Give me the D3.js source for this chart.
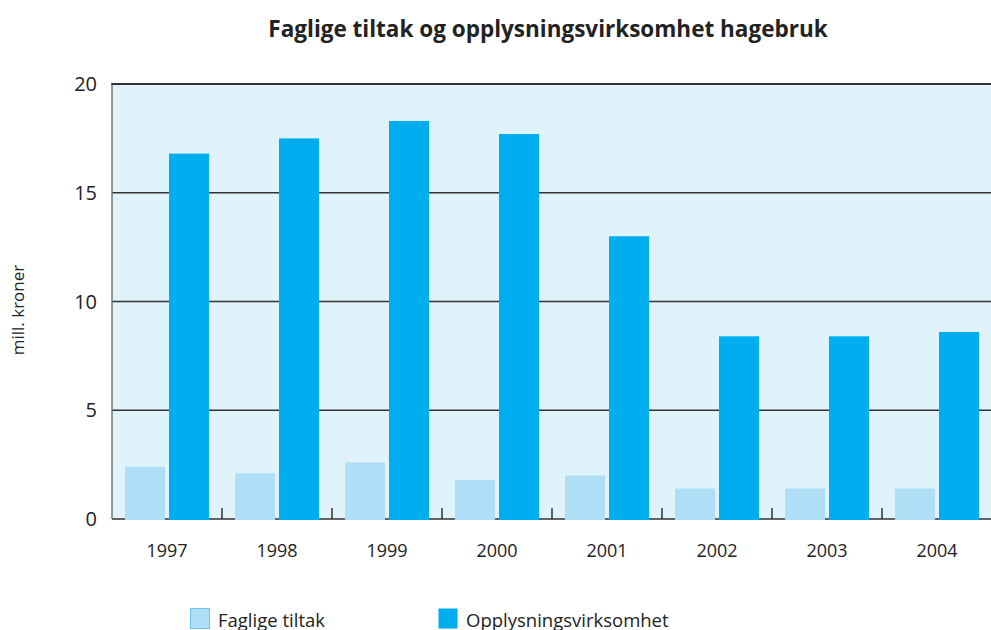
<!DOCTYPE html>
<html>
<head>
<meta charset="utf-8">
<script src="https://cdn.jsdelivr.net/npm/d3@7"></script>
<style>
  body { margin: 0; background: #fff; }
  svg { display: block; font-family: "Open Sans", "DejaVu Sans", sans-serif; }
</style>
</head>
<body>
<svg id="chart" width="991" height="630"></svg>
<script>
// data
var years = ["1997", "1998", "1999", "2000", "2001", "2002", "2003", "2004"];
var faglige = [2.4, 2.1, 2.6, 1.8, 2.0, 1.4, 1.4, 1.4];
var opplysning = [16.8, 17.5, 18.3, 17.7, 13.0, 8.4, 8.4, 8.6];
var yTicks = [0, 5, 10, 15, 20];
var seriesNames = ["Faglige tiltak", "Opplysningsvirksomhet"];
var colors = ["#aedff7", "#00aeef"];

var svg = d3.select("#chart");
// note: "top" is taken by window.top, so plot edges get their own names
var plotLeft = 112, plotRight = 992, plotTop = 84, plotBottom = 519;

var x = d3.scaleBand().domain(years).range([plotLeft, plotRight]);
var y = d3.scaleLinear().domain([0, 20]).range([plotBottom, plotTop]);
var bw = x.bandwidth();

// plot background
svg.append("rect")
  .attr("x", plotLeft).attr("y", plotTop)
  .attr("width", plotRight - plotLeft).attr("height", plotBottom - plotTop)
  .attr("fill", "#e0f3fb");

// gridlines
svg.selectAll(".grid")
  .data(yTicks.filter(function(d) { return d > 0 && d < 20; }))
  .enter().append("line")
  .attr("x1", plotLeft).attr("x2", plotRight)
  .attr("y1", function(d) { return y(d); })
  .attr("y2", function(d) { return y(d); })
  .attr("stroke", "#333")
  .attr("stroke-width", 1.5);

// category ticks at the bottom, between the groups
svg.selectAll(".sep")
  .data(years.slice(1))
  .enter().append("line")
  .attr("x1", function(d) { return x(d); })
  .attr("x2", function(d) { return x(d); })
  .attr("y1", plotBottom - 11).attr("y2", plotBottom)
  .attr("stroke", "#333").attr("stroke-width", 1.5);

// bottom axis line
svg.append("line")
  .attr("x1", plotLeft).attr("x2", plotRight)
  .attr("y1", plotBottom).attr("y2", plotBottom)
  .attr("stroke", "#333").attr("stroke-width", 1.5);

// bars
var barW = bw * 40 / 110;
var offsets = [bw * 13 / 110, bw * 57 / 110];
[faglige, opplysning].forEach(function(vals, s) {
  svg.selectAll(".bar" + s)
    .data(vals)
    .enter().append("rect")
    .attr("x", function(d, i) { return x(years[i]) + offsets[s]; })
    .attr("y", function(d) { return y(d); })
    .attr("width", barW)
    .attr("height", function(d) { return plotBottom - y(d) + 1; })
    .attr("fill", colors[s]);
});

// left axis and top border
svg.append("line")
  .attr("x1", plotLeft).attr("x2", plotLeft)
  .attr("y1", plotTop).attr("y2", plotBottom)
  .attr("stroke", "#777").attr("stroke-width", 1.5);
svg.append("line")
  .attr("x1", plotLeft - 0.75).attr("x2", plotRight)
  .attr("y1", plotTop).attr("y2", plotTop)
  .attr("stroke", "#333").attr("stroke-width", 2);

// y tick labels
svg.selectAll(".ylab")
  .data(yTicks)
  .enter().append("text")
  .attr("x", 97)
  .attr("y", function(d) { return y(d) + 7; })
  .attr("text-anchor", "end")
  .attr("font-size", 20)
  .attr("fill", "#222")
  .text(function(d) { return d; });

// x labels
svg.selectAll(".xlab")
  .data(years)
  .enter().append("text")
  .attr("x", function(d) { return x(d) + bw / 2; })
  .attr("y", 557)
  .attr("text-anchor", "middle")
  .attr("font-size", 18)
  .attr("fill", "#222")
  .text(function(d) { return d; });

// y axis title
svg.append("text")
  .attr("transform", "translate(24,310) rotate(-90)")
  .attr("text-anchor", "middle")
  .attr("font-size", 17)
  .attr("fill", "#222")
  .text("mill. kroner");

// title
svg.append("text")
  .attr("x", 548).attr("y", 37)
  .attr("text-anchor", "middle")
  .attr("font-size", 22.5)
  .attr("font-weight", "bold")
  .attr("fill", "#222")
  .text("Faglige tiltak og opplysningsvirksomhet hagebruk");

// legend
var legX = [190, 438];
seriesNames.forEach(function(name, i) {
  svg.append("rect")
    .attr("x", legX[i] + 0.5).attr("y", 608.5)
    .attr("width", 19).attr("height", 20)
    .attr("fill", colors[i])
    .attr("stroke", i === 0 ? "#6cc6ec" : "none");
  svg.append("text")
    .attr("x", legX[i] + 28).attr("y", 627)
    .attr("font-size", 18.5)
    .attr("fill", "#222")
    .text(name);
});
</script>
</body>
</html>
